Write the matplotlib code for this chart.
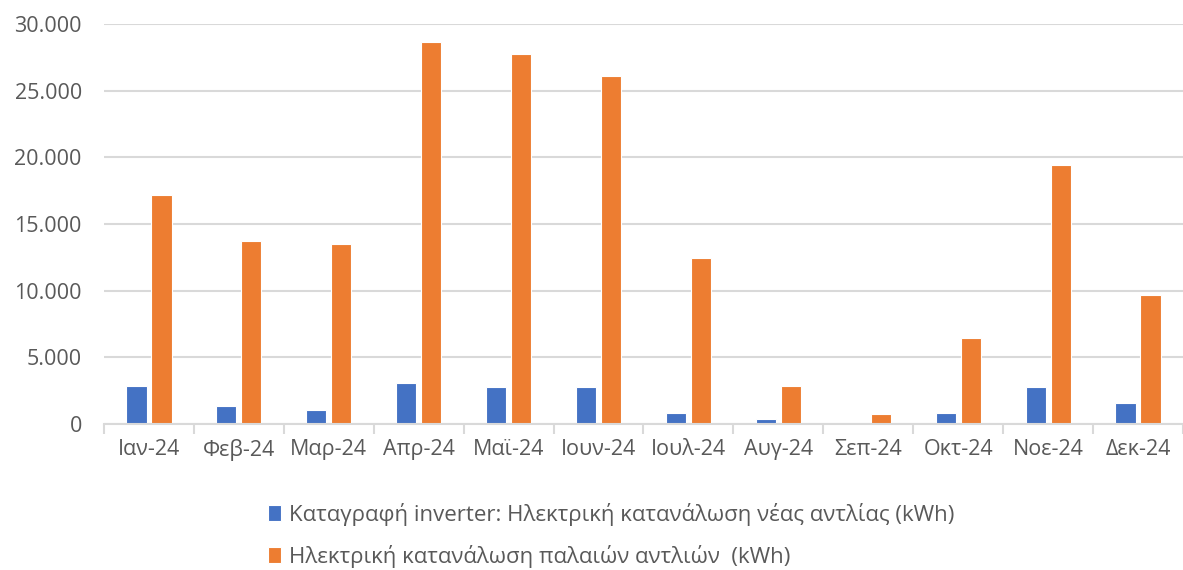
import matplotlib.pyplot as plt
import numpy as np
from matplotlib.ticker import FuncFormatter, FixedLocator

plt.rcParams['font.family'] = ['Open Sans', 'DejaVu Sans']

months = ['Ιαν-24', 'Φεβ-24', 'Μαρ-24', 'Απρ-24', 'Μαϊ-24', 'Ιουν-24',
          'Ιουλ-24', 'Αυγ-24', 'Σεπ-24', 'Οκτ-24', 'Νοε-24', 'Δεκ-24']
new_pump = [2850, 1340, 1040, 3060, 2740, 2740, 810, 340, 0, 840, 2740, 1540]
old_pumps = [17200, 13700, 13500, 28650, 27750, 26100, 12450, 2850, 740, 6450, 19400, 9650]
label_new = 'Καταγραφή inverter: Ηλεκτρική κατανάλωση νέας αντλίας (kWh)'
label_old = 'Ηλεκτρική κατανάλωση παλαιών αντλιών  (kWh)'

blue = '#4472C4'
orange = '#ED7D31'
text_col = '#595959'
grid_col = '#D9D9D9'

fig = plt.figure(figsize=(11.83, 5.70), dpi=100)
ax = fig.add_axes([0.0879, 0.2561, 0.9121, 0.7018])

x = np.arange(len(months))
w = 0.225
ax.bar(x - 0.139, new_pump, w, color=blue, edgecolor='white', linewidth=0.8, label=label_new, zorder=3)
ax.bar(x + 0.139, old_pumps, w, color=orange, edgecolor='white', linewidth=0.8, label=label_old, zorder=3)

ax.set_xlim(-0.5, len(months) - 0.5)
ax.set_ylim(0, 30000)
ax.set_yticks(range(0, 30001, 5000))
ax.yaxis.set_major_formatter(FuncFormatter(lambda v, p: f'{int(v):,}'.replace(',', '.')))
ax.grid(axis='y', color=grid_col, linewidth=1.5, zorder=0)

ax.set_xticks(x)
ax.set_xticklabels(months)
ax.xaxis.set_minor_locator(FixedLocator(np.arange(-0.5, len(months), 1.0)))
ax.tick_params(axis='x', which='major', length=0, pad=11, labelsize=15.5, labelcolor=text_col)
ax.tick_params(axis='x', which='minor', length=7, width=1.5, color=grid_col)
ax.tick_params(axis='y', length=0, pad=16, labelsize=15.5, labelcolor=text_col)

for s in ['top', 'right', 'left']:
    ax.spines[s].set_visible(False)
ax.spines['bottom'].set_color(grid_col)
ax.spines['bottom'].set_linewidth(1.5)
ax.spines['bottom'].set_zorder(4)

fig.legend(loc='upper center', bbox_to_anchor=(0.517, 0.137), ncol=1, frameon=False,
           fontsize=16, labelcolor=text_col, handlelength=0.55, handleheight=0.75,
           handletextpad=0.4, labelspacing=0.85, borderpad=0)

plt.savefig('out.png', dpi=100)
